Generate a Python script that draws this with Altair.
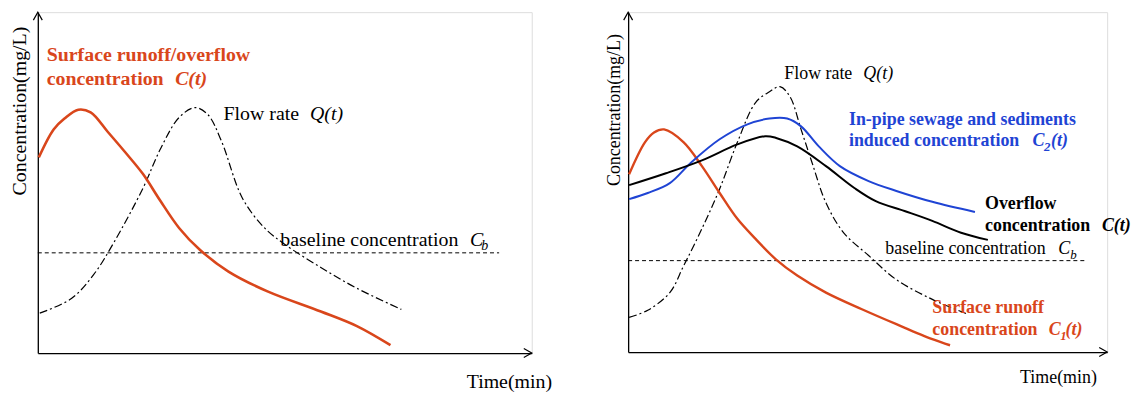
import altair as alt
import pandas as pd

FONT = "Liberation Serif"
RED = "#d9461b"
BLUE = "#1f44d4"
BLACK = "#000000"

# ---------------- Left panel data (time 0-100, concentration 0-100) ----------------
L_runoff_t = [0.2, 3.2, 5.4, 8.2, 10.7, 14.1, 17.7, 21.3, 24.7, 28.6, 32.8, 38.6, 46.5, 57.3, 64.6, 71.4]
L_runoff_c = [57.4, 65.6, 68.8, 71.4, 70.6, 65.0, 58.9, 52.5, 44.9, 36.7, 30.3, 23.9, 18.1, 12.2, 7.9, 2.3]

L_flow_t = [0.4, 6.8, 11.3, 15.5, 21.3, 24.9, 28.6, 31.8, 34.4, 37.2, 41.4, 45.9, 50.1, 57.3, 64.6, 73.6]
L_flow_c = [11.7, 16.0, 23.0, 32.7, 48.4, 60.1, 69.1, 72.0, 70.0, 62.1, 45.5, 36.7, 31.8, 25.1, 19.0, 12.8]

L_base_t = [0.0, 93.4]
L_base_c = [29.4, 29.4]

# ---------------- Right panel data ----------------
R_runoff_t = [0.2, 3.5, 5.4, 7.5, 11.6, 15.4, 19.1, 22.8, 26.6, 30.9, 35.3, 41.3, 48.8, 56.0, 63.5, 67.2]
R_runoff_c = [52.3, 61.7, 64.6, 65.5, 61.7, 54.7, 46.8, 39.2, 33.3, 27.2, 22.5, 17.5, 12.6, 8.2, 3.8, 2.0]

R_pipe_t = [0.2, 4.1, 8.7, 13.1, 19.1, 24.9, 29.5, 33.2, 36.1, 39.8, 44.2, 50.2, 56.0, 63.5, 72.4]
R_pipe_c = [45.0, 46.8, 49.7, 55.7, 62.6, 67.0, 68.7, 68.7, 66.4, 60.5, 54.7, 50.3, 47.4, 44.2, 41.2]

R_over_t = [0.2, 7.9, 15.4, 22.8, 28.6, 30.9, 35.3, 41.3, 47.3, 51.7, 57.7, 63.5, 69.5, 75.1]
R_over_c = [49.1, 52.6, 56.4, 61.1, 63.5, 63.0, 60.5, 54.7, 48.2, 44.4, 41.5, 38.6, 35.1, 33.0]

R_flow_t = [0.2, 4.1, 8.7, 11.6, 15.4, 19.1, 22.8, 26.6, 29.5, 31.7, 33.8, 36.1, 38.4, 41.3, 45.0, 50.2, 56.0, 63.5, 71.0]
R_flow_c = [10.2, 12.3, 17.5, 25.4, 36.3, 48.0, 61.7, 73.4, 76.6, 78.1, 75.1, 65.5, 55.7, 43.9, 35.1, 28.4, 21.3, 15.5, 11.1]

R_base_t = [0.0, 95.6]
R_base_c = [26.9, 26.9]

# ---------------- Annotation text ----------------
L_lab_text = ["Surface runoff/overflow", "concentration", "C(t)", "Flow rate", "Q(t)",
              "baseline concentration", "C", "b"]
L_lab_t = [1.8, 1.8, 27.8, 37.6, 55.1, 49.1, 87.5, 89.8]
L_lab_c = [87.5, 80.5, 80.5, 70.1, 70.1, 33.2, 33.2, 31.3]
L_lab_weight = ["bold", "bold", "bold", "normal", "normal", "normal", "normal", "normal"]
L_lab_style = ["normal", "normal", "italic", "normal", "italic", "normal", "italic", "italic"]
L_lab_color = [RED, RED, RED, BLACK, BLACK, BLACK, BLACK, BLACK]
L_lab_size = [20, 20, 20, 20, 20, 20, 20, 14]

R_lab_text = ["Flow rate", "Q(t)",
              "In-pipe sewage and sediments", "induced concentration", "C", "2", "(t)",
              "Overflow", "concentration", "C(t)",
              "baseline concentration", "C", "b",
              "Surface runoff", "concentration", "C", "1", "(t)"]
R_lab_t = [32.6, 49.1,
           46.1, 46.1, 84.4, 86.8, 88.3,
           74.5, 74.5, 98.9,
           53.7, 89.8, 92.3,
           63.5, 63.5, 87.8, 90.2, 91.3]
R_lab_c = [81.9, 81.9,
           68.4, 62.0, 62.0, 60.4, 62.0,
           43.6, 37.1, 37.1,
           30.3, 30.3, 28.5,
           12.9, 6.4, 6.4, 4.8, 6.4]
R_lab_weight = ["normal", "normal",
                "bold", "bold", "bold", "bold", "bold",
                "bold", "bold", "bold",
                "normal", "normal", "normal",
                "bold", "bold", "bold", "bold", "bold"]
R_lab_style = ["normal", "italic",
               "normal", "normal", "italic", "italic", "italic",
               "normal", "normal", "italic",
               "normal", "italic", "italic",
               "normal", "normal", "italic", "italic", "italic"]
R_lab_color = [BLACK, BLACK,
               BLUE, BLUE, BLUE, BLUE, BLUE,
               BLACK, BLACK, BLACK,
               BLACK, BLACK, BLACK,
               RED, RED, RED, RED, RED]
R_lab_size = [18, 18,
              18, 18, 18, 13, 18,
              18, 18, 18,
              18, 18, 13,
              18, 18, 18, 13, 18]

UP_ARROW = "M -0.56 1 L 0 0 L 0.56 1"
RIGHT_ARROW = "M -1 -0.56 L 0 0 L -1 0.56"


def make_panel(series, labels, width, height, fs_title, xt, yt):
    xaxis = alt.Axis(title="Time(min)", ticks=False, labels=False, grid=False,
                     domainColor="black", domainWidth=1.3,
                     titleFont=FONT, titleFontSize=fs_title, titleFontWeight="normal",
                     titleColor="black", titleX=xt[0], titleY=xt[1],
                     titleAlign="center", titleBaseline="middle")
    yaxis = alt.Axis(title="Concentration(mg/L)", ticks=False, labels=False, grid=False,
                     domainColor="black", domainWidth=1.3,
                     titleFont=FONT, titleFontSize=fs_title, titleFontWeight="normal",
                     titleColor="black", titleAngle=270, titleX=yt[0], titleY=yt[1],
                     titleAlign="center", titleBaseline="middle")
    xs = alt.Scale(domain=[0, 100], nice=False, zero=False)
    ys = alt.Scale(domain=[0, 100], nice=False, zero=False)

    def X(f):
        return alt.X(f, type="quantitative", scale=xs, axis=xaxis)

    def Y(f):
        return alt.Y(f, type="quantitative", scale=ys, axis=yaxis)

    layers = []
    for t, c, color, width_px, dash in series:
        df = pd.DataFrame({"t": t, "c": c})
        kw = dict(color=color, strokeWidth=width_px, interpolate="catmull-rom")
        if dash:
            kw["strokeDash"] = dash
        layers.append(alt.Chart(df).mark_line(**kw).encode(x=X("t"), y=Y("c")))

    arrows = pd.DataFrame({"t": [0, 100], "c": [100, 0], "shape": [UP_ARROW, RIGHT_ARROW]})
    for shp in [UP_ARROW, RIGHT_ARROW]:
        layers.append(
            alt.Chart(arrows[arrows["shape"] == shp]).mark_point(
                shape=shp, size=256, filled=False, color="black", strokeWidth=1.2, opacity=1
            ).encode(x=X("t"), y=Y("c"))
        )

    lab = pd.DataFrame(labels)
    for (w, s), sub in lab.groupby(["weight", "style"]):
        layers.append(
            alt.Chart(sub).mark_text(font=FONT, fontWeight=w, fontStyle=s,
                                     align="left", baseline="middle").encode(
                x=X("t"), y=Y("c"), text="text:N",
                color=alt.Color("col:N", scale=None),
                size=alt.Size("fs:Q", scale=None),
            )
        )
    return alt.layer(*layers).properties(width=width, height=height)


left = make_panel(
    [
        (L_base_t, L_base_c, BLACK, 1.0, [4, 3]),
        (L_flow_t, L_flow_c, BLACK, 1.2, [8, 3, 2, 3]),
        (L_runoff_t, L_runoff_c, RED, 2.6, None),
    ],
    {"text": L_lab_text, "t": L_lab_t, "c": L_lab_c, "weight": L_lab_weight,
     "style": L_lab_style, "col": L_lab_color, "fs": L_lab_size},
    497, 343, 20, (474, 28.5), (-18, 99),
)

right = make_panel(
    [
        (R_base_t, R_base_c, BLACK, 1.0, [4, 3]),
        (R_flow_t, R_flow_c, BLACK, 1.2, [8, 3, 2, 3]),
        (R_runoff_t, R_runoff_c, RED, 2.4, None),
        (R_pipe_t, R_pipe_c, BLUE, 2.0, None),
        (R_over_t, R_over_c, BLACK, 2.0, None),
    ],
    {"text": R_lab_text, "t": R_lab_t, "c": R_lab_c, "weight": R_lab_weight,
     "style": R_lab_style, "col": R_lab_color, "fs": R_lab_size},
    482, 342, 18, (432.5, 26), (-14, 98),
)

chart = alt.hconcat(left, right, spacing=97, bounds="flush").properties(
    padding={"left": 1, "top": 0, "right": 0, "bottom": 0}
).configure_view(stroke=None).configure(background="white")

chart.save("out.html", embed_options={"renderer": "svg", "actions": False})
